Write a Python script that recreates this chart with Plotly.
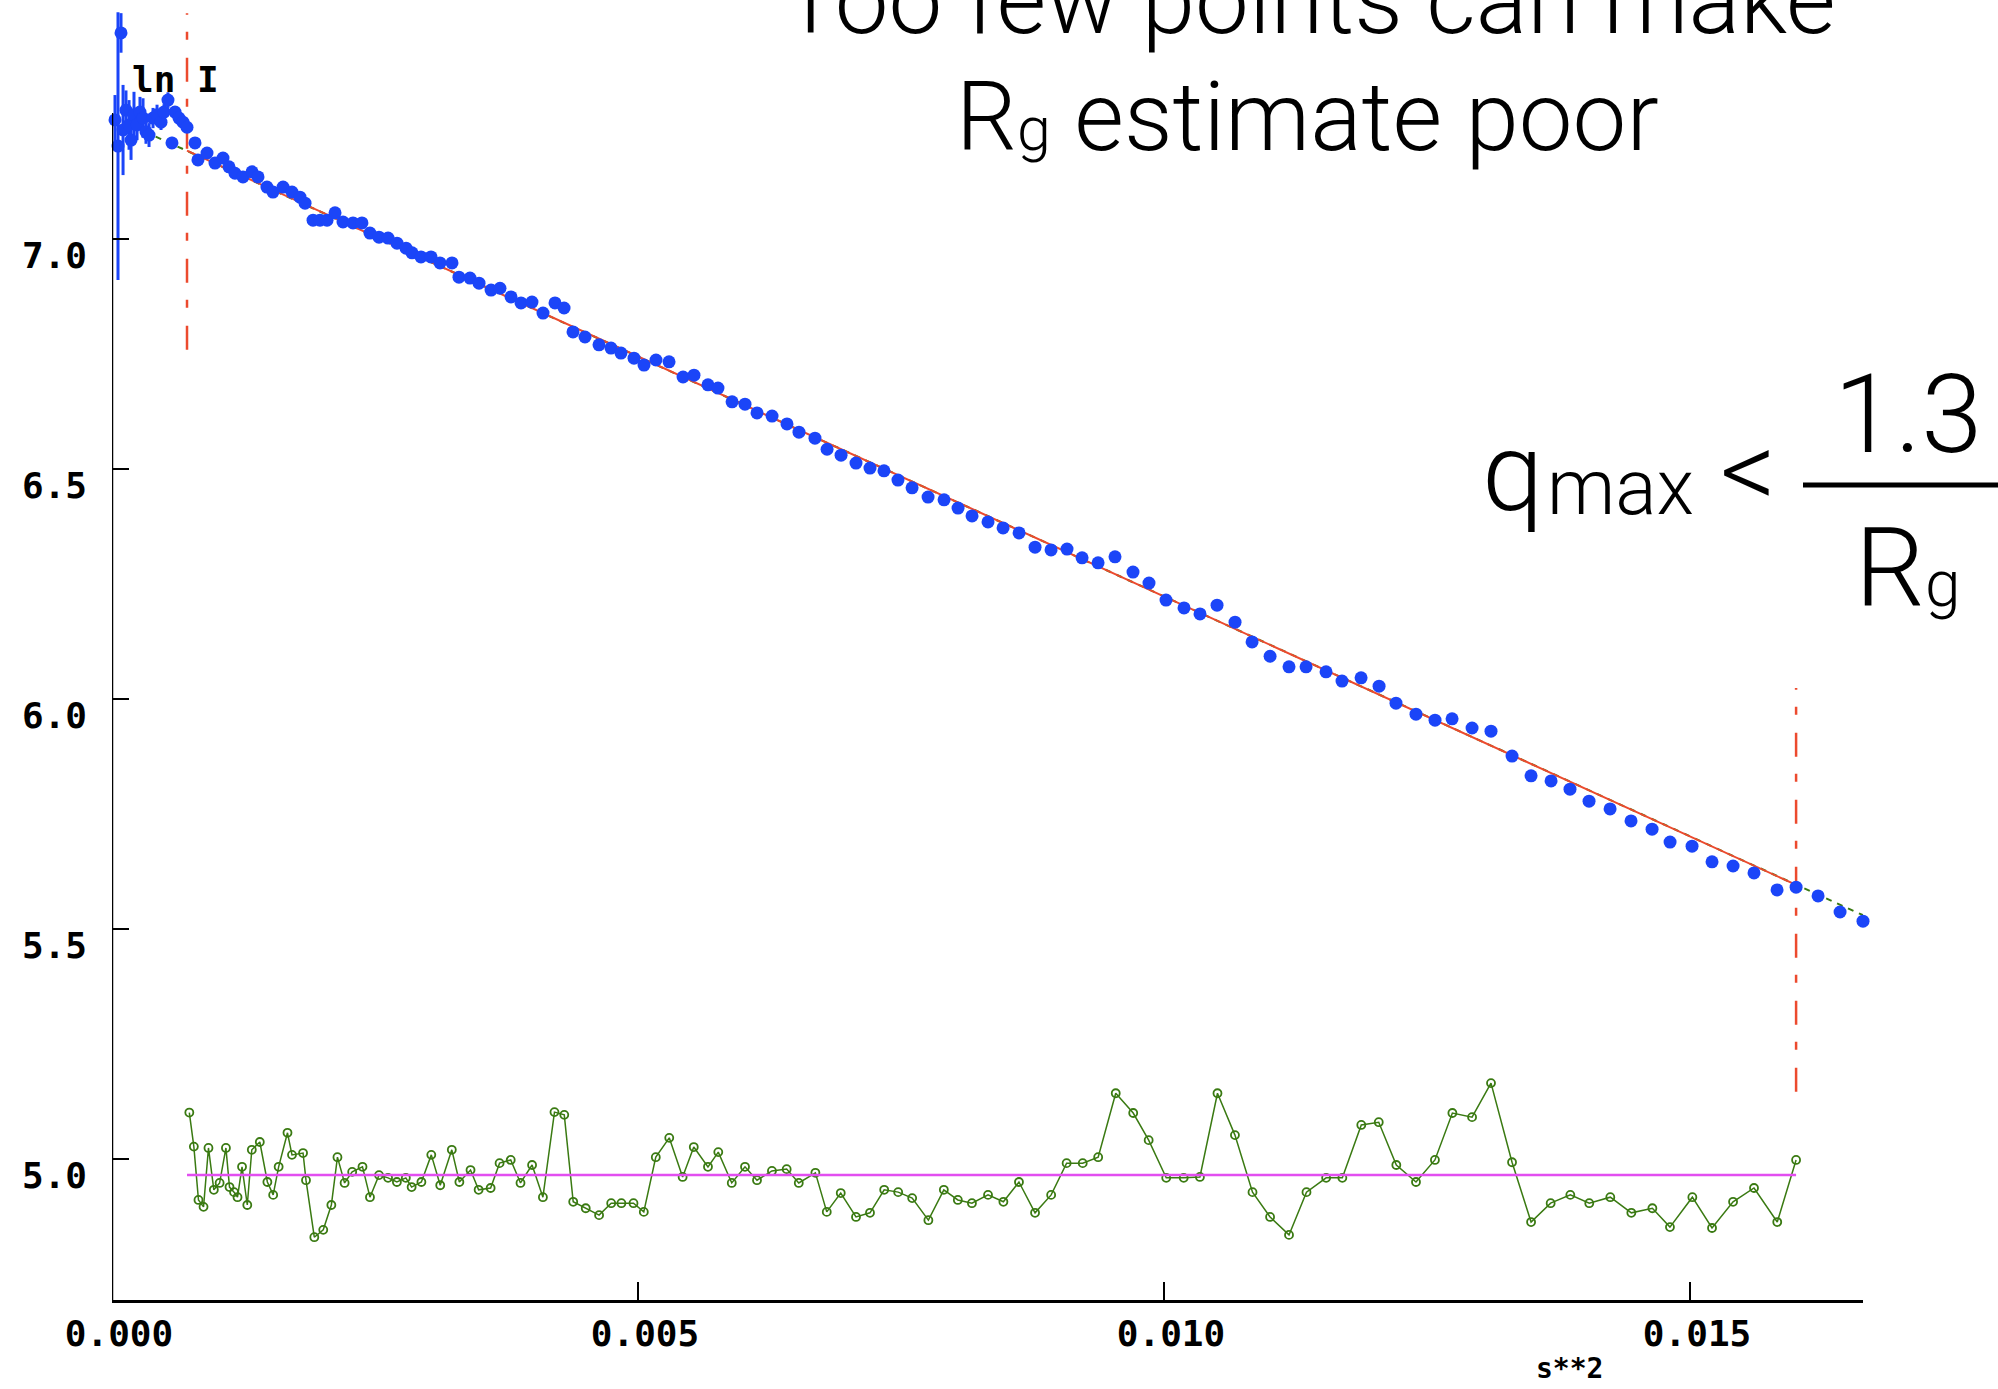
import plotly.graph_objects as go

# ---- Guinier data: ln I versus s**2 ----
s2_data = [
    0.0000285, 0.000057, 0.0000856, 0.000105, 0.000133, 0.000162, 0.000181, 0.000209,
    0.000238, 0.000266, 0.000295, 0.000323, 0.000352, 0.000390, 0.000428, 0.000466,
    0.000494, 0.000532, 0.000570, 0.000599, 0.000637, 0.000675,
    0.000713, 0.000789, 0.000817, 0.000903, 0.000979, 0.001055, 0.001112, 0.001169,
    0.001245, 0.001331, 0.001388, 0.001473, 0.001530, 0.001626, 0.001711, 0.001787,
    0.001835, 0.001911, 0.001977, 0.002044, 0.002120, 0.002196, 0.002291, 0.002376,
    0.002452, 0.002538, 0.002624, 0.002709, 0.002795, 0.002852, 0.002937, 0.003032,
    0.003118, 0.003232, 0.003298, 0.003403, 0.003489, 0.003603, 0.003688, 0.003793,
    0.003888, 0.003992, 0.004097, 0.004211, 0.004297, 0.004382, 0.004496, 0.004629,
    0.004743, 0.004838, 0.004962, 0.005057, 0.005171, 0.005295, 0.005428, 0.005532,
    0.005665, 0.005760, 0.005894, 0.006017, 0.006131, 0.006274, 0.006416, 0.006530,
    0.006682, 0.006797, 0.006930, 0.007072, 0.007205, 0.007338, 0.007471, 0.007605,
    0.007757, 0.007909, 0.008042, 0.008175, 0.008327, 0.008470, 0.008622, 0.008774,
    0.008926, 0.009078, 0.009221, 0.009373, 0.009534, 0.009705, 0.009857, 0.010019,
    0.010190, 0.010342, 0.010504, 0.010675, 0.010837, 0.011008, 0.011188, 0.011350,
    0.011540, 0.011692, 0.011873, 0.012044, 0.012205, 0.012395, 0.012576, 0.012738,
    0.012928, 0.013108, 0.013308, 0.013489, 0.013679, 0.013859, 0.014040, 0.014240,
    0.014439, 0.014639, 0.014810, 0.015019, 0.015209, 0.015409, 0.015608, 0.015827,
    0.016008, 0.016217, 0.016426, 0.016644,
]
lnI_data = [
    7.259, 7.202, 7.448, 7.237, 7.280, 7.248, 7.215, 7.270,
    7.248, 7.276, 7.263, 7.233, 7.226, 7.263, 7.270, 7.254,
    7.276, 7.302, 7.209, 7.276, 7.263, 7.254,
    7.243, 7.209, 7.172, 7.187, 7.165, 7.176, 7.157, 7.143,
    7.135, 7.146, 7.135, 7.113, 7.102, 7.113, 7.102, 7.091,
    7.078, 7.041, 7.041, 7.041, 7.057, 7.037, 7.035, 7.035,
    7.013, 7.004, 7.002, 6.991, 6.980, 6.970, 6.961, 6.961,
    6.948, 6.948, 6.917, 6.915, 6.904, 6.889, 6.893, 6.874,
    6.861, 6.863, 6.839, 6.861, 6.850, 6.798, 6.787, 6.770,
    6.763, 6.752, 6.741, 6.726, 6.737, 6.733, 6.700, 6.704,
    6.683, 6.676, 6.646, 6.641, 6.622, 6.615, 6.598, 6.580,
    6.567, 6.543, 6.530, 6.513, 6.502, 6.496, 6.476, 6.459,
    6.439, 6.433, 6.415, 6.398, 6.385, 6.372, 6.361, 6.330,
    6.324, 6.326, 6.307, 6.296, 6.309, 6.276, 6.252, 6.215,
    6.198, 6.185, 6.204, 6.167, 6.124, 6.093, 6.070, 6.070,
    6.059, 6.039, 6.046, 6.028, 5.991, 5.967, 5.954, 5.957,
    5.937, 5.930, 5.876, 5.833, 5.822, 5.804, 5.778, 5.761,
    5.735, 5.717, 5.689, 5.680, 5.646, 5.637, 5.622, 5.585,
    5.591, 5.572, 5.537, 5.517,
]
lnI_err = [
    0.054, 0.291, 0.043, 0.098, 0.043, 0.054, 0.043, 0.050,
    0.033, 0.033, 0.043, 0.026, 0.026, 0.022, 0.022, 0.017,
    0.017, 0.017, 0.013, 0.013, 0.013, 0.011,
] + [0.0] * 126

# ---- Guinier fit (extrapolated line and fitted range) ----
guinier_s2 = [0.0, 0.016644]
guinier_lnI = [7.266, 5.530]
fit_s2 = [0.000713, 0.016008]
fit_lnI = [7.192, 5.596]

# range limits of the fit
limit_lo_s2 = [0.000713, 0.000713]
limit_lo_y = [6.759, 7.491]
limit_hi_s2 = [0.016008, 0.016008]
limit_hi_y = [5.146, 6.024]

# ---- residuals, drawn offset under the curve ----
resid_s2 = [
    0.000735, 0.000778, 0.000822, 0.000870, 0.000917, 0.000968, 0.001023, 0.001083,
    0.001117, 0.001160, 0.001193, 0.001236, 0.001286, 0.001329, 0.001405, 0.001477,
    0.001532, 0.001584, 0.001668, 0.001711, 0.001816, 0.001844, 0.001923, 0.002008,
    0.002085, 0.002143, 0.002211, 0.002283, 0.002381, 0.002452, 0.002538, 0.002624,
    0.002708, 0.002793, 0.002848, 0.002941, 0.003035, 0.003120, 0.003230, 0.003302,
    0.003408, 0.003485, 0.003599, 0.003684, 0.003790, 0.003883, 0.003993, 0.004096,
    0.004206, 0.004299, 0.004384, 0.004503, 0.004630, 0.004745, 0.004842, 0.004957,
    0.005055, 0.005169, 0.005297, 0.005424, 0.005530, 0.005665, 0.005763, 0.005891,
    0.006017, 0.006131, 0.006273, 0.006413, 0.006528, 0.006686, 0.006794, 0.006927,
    0.007072, 0.007205, 0.007340, 0.007473, 0.007606, 0.007760, 0.007907, 0.008040,
    0.008174, 0.008327, 0.008473, 0.008621, 0.008774, 0.008927, 0.009074, 0.009227,
    0.009374, 0.009541, 0.009707, 0.009854, 0.010021, 0.010187, 0.010341, 0.010508,
    0.010674, 0.010841, 0.011008, 0.011188, 0.011354, 0.011541, 0.011695, 0.011875,
    0.012041, 0.012208, 0.012395, 0.012575, 0.012741, 0.012928, 0.013108, 0.013308,
    0.013489, 0.013675, 0.013862, 0.014042, 0.014242, 0.014442, 0.014642, 0.014809,
    0.015022, 0.015209, 0.015409, 0.015608, 0.015829, 0.016008,
]
resid_y = [
    5.101, 5.027, 4.911, 4.896, 5.024, 4.933, 4.948, 5.024,
    4.939, 4.928, 4.917, 4.983, 4.900, 5.020, 5.037, 4.950,
    4.922, 4.983, 5.057, 5.009, 5.013, 4.954, 4.830, 4.846,
    4.900, 5.004, 4.948, 4.972, 4.983, 4.917, 4.965, 4.959,
    4.950, 4.959, 4.939, 4.950, 5.009, 4.943, 5.020, 4.950,
    4.976, 4.933, 4.937, 4.991, 4.998, 4.948, 4.987, 4.917,
    5.102, 5.096, 4.907, 4.893, 4.878, 4.904, 4.904, 4.904,
    4.885, 5.004, 5.046, 4.961, 5.026, 4.983, 5.015, 4.948,
    4.983, 4.954, 4.974, 4.978, 4.948, 4.970, 4.885, 4.926,
    4.874, 4.883, 4.933, 4.928, 4.915, 4.867, 4.933, 4.911,
    4.904, 4.922, 4.907, 4.950, 4.883, 4.922, 4.991, 4.991,
    5.004, 5.143, 5.100, 5.041, 4.959, 4.959, 4.961, 5.143,
    5.052, 4.928, 4.874, 4.835, 4.928, 4.959, 4.959, 5.074,
    5.080, 4.987, 4.950, 4.998, 5.100, 5.091, 5.165, 4.993,
    4.863, 4.904, 4.922, 4.904, 4.917, 4.883, 4.893, 4.852,
    4.917, 4.850, 4.907, 4.937, 4.863, 4.998,
]
resid_zero_s2 = [0.000713, 0.016008]
resid_zero_y = [4.965, 4.965]

x_ticks = [0.0, 0.005, 0.010, 0.015]
x_tick_text = ["0.000", "0.005", "0.010", "0.015"]
y_ticks = [5.0, 5.5, 6.0, 6.5, 7.0]
y_tick_text = ["5.0", "5.5", "6.0", "6.5", "7.0"]

X_RANGE = [0.0, 0.016644]
Y_RANGE = [4.6935, 7.5196]
Y_AXIS_TOP = 7.274

BLUE = "#1B45F8"
RED = "#EC4A2E"
GREEN = "#3A7A12"
MAGENTA = "#E24EF0"
MONO = dict(family="DejaVu Sans Mono", size=36, color="black", weight="bold")
LIGHT = "Roboto"

fig = go.Figure()

fig.add_trace(go.Scatter(x=guinier_s2, y=guinier_lnI, mode="lines",
                         line=dict(color=GREEN, width=2, dash="6px,6px"), hoverinfo="skip"))
fig.add_trace(go.Scatter(x=fit_s2, y=fit_lnI, mode="lines",
                         line=dict(color=RED, width=2), hoverinfo="skip"))
for xs, ys in [(limit_lo_s2, limit_lo_y), (limit_hi_s2, limit_hi_y)]:
    fig.add_trace(go.Scatter(x=xs, y=ys, mode="lines",
                             line=dict(color=RED, width=2.5, dash="24px,18px,8px,17px"),
                             hoverinfo="skip"))

fig.add_trace(go.Scatter(
    x=s2_data, y=lnI_data, mode="markers",
    marker=dict(color=BLUE, size=13, line=dict(width=0)),
    error_y=dict(type="data", array=lnI_err, visible=True, color=BLUE, thickness=3, width=0),
    cliponaxis=False,
))

fig.add_trace(go.Scatter(
    x=resid_s2, y=resid_y, mode="lines+markers",
    line=dict(color=GREEN, width=1.5),
    marker=dict(symbol="circle-open", size=8, color=GREEN, line=dict(width=1.8, color=GREEN)),
))
fig.add_trace(go.Scatter(x=resid_zero_s2, y=resid_zero_y, mode="lines",
                         line=dict(color=MAGENTA, width=2.5), hoverinfo="skip"))

# y axis line stops at the top of the fitted scale
fig.add_shape(type="line", xref="x", yref="y", x0=0, x1=0, y0=Y_RANGE[0], y1=Y_AXIS_TOP,
              line=dict(color="black", width=2.5))

W, H = 1998, 1389
L, R, T, B = 112, 135, 0, 89
PW, PH = W - L - R, H - T - B


def px(xp):
    return (xp - L) / PW


def py(yp):
    return 1 - (yp - T) / PH


def text(t, xp, yp, size, xanchor="center", family=LIGHT, weight=300):
    fig.add_annotation(text=t, x=px(xp), y=py(yp), xref="paper", yref="paper",
                       xanchor=xanchor, yanchor="middle", showarrow=False,
                       font=dict(family=family, size=size, color="black", weight=weight))


# headline
text("Too few points can make", 1309, 0, 96)
text("R<span style='font-size:61px'>g</span> estimate poor", 1307, 117, 96)

# q_max < 1.3 / R_g
text("q", 1480, 472, 110, xanchor="left")
text("max", 1545, 488, 77, xanchor="left")
text("<", 1748, 470, 110)
text("1.3", 1908, 414, 110)
text("R<span style='font-size:64px'>g</span>", 1907, 568, 110)
fig.add_shape(type="line", xref="paper", yref="paper", x0=px(1803), x1=px(2010),
              y0=py(485), y1=py(485), line=dict(color="black", width=5))

# axis captions
fig.add_annotation(text="ln I", x=0.0006, y=7.346, xref="x", yref="y", showarrow=False,
                   xanchor="center", yanchor="middle", font=MONO)
text("s**2", 1569, 1368, 28, family="DejaVu Sans Mono", weight="bold")

fig.update_xaxes(range=X_RANGE, showgrid=False, zeroline=False, showline=True,
                 linecolor="black", linewidth=3, ticks="inside", ticklen=18, tickwidth=2,
                 tickcolor="black", tickvals=x_ticks, ticktext=x_tick_text, tickfont=MONO,
                 ticklabelstandoff=0, ticklabelshift=7)
fig.update_yaxes(range=Y_RANGE, showgrid=False, zeroline=False, showline=False,
                 ticks="inside", ticklen=17, tickwidth=2, tickcolor="black",
                 tickvals=y_ticks, ticktext=y_tick_text, tickfont=MONO,
                 ticklabelstandoff=24, ticklabelshift=16)

fig.update_layout(width=W, height=H, margin=dict(l=L, r=R, t=T, b=B, pad=0),
                  plot_bgcolor="white", paper_bgcolor="white", showlegend=False)

fig.write_html("out.html")
